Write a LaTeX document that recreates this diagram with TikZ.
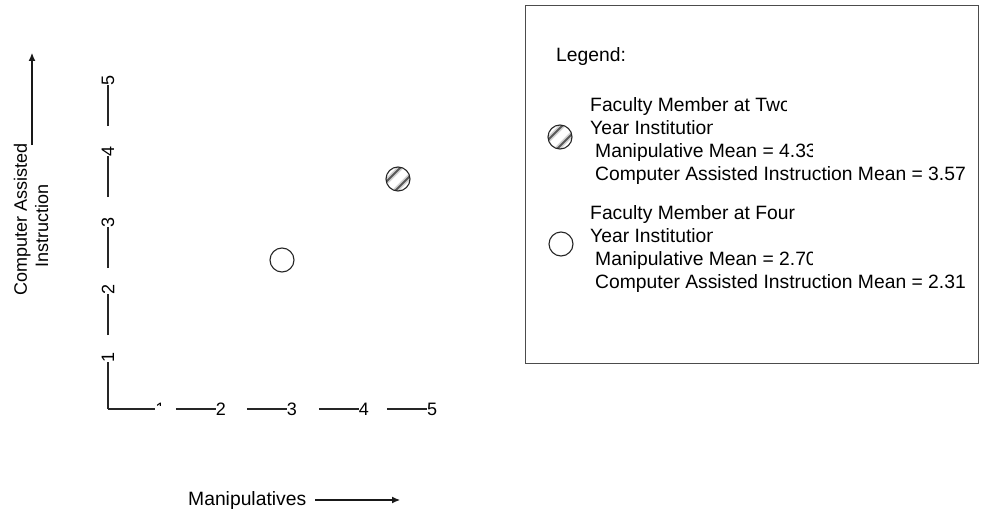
\documentclass[tikz,border=0pt]{standalone}
\usepackage{fontspec}
\setmainfont{Liberation Sans}
\usetikzlibrary{arrows.meta}
\begin{document}
\begin{tikzpicture}[x=1pt,y=-1pt,
  txt/.style={font=\fontsize{19.3}{23}\selectfont, inner sep=0pt},
  lab/.style={font=\fontsize{18}{22}\selectfont, inner sep=0pt},
  num/.style={font=\fontsize{18}{22}\selectfont, inner sep=0pt},
  axis/.style={line width=1.1pt, black!85},
  arr/.style={line width=1.1pt, black!90, -{Latex[length=8pt,width=7pt]}},
  dot/.style={circle, draw=black!85, line width=1.1pt, minimum size=24pt, inner sep=0pt, fill=white},
  hatchdot/.style={dot, path picture={
    \foreach \o in {-4.5,4.5}{
      \draw[gray!35, line width=5pt]
        ([shift={(-20+\o,20+\o)}]path picture bounding box.center) --
        ([shift={(20+\o,-20+\o)}]path picture bounding box.center);
      \draw[gray!70!black, line width=2pt]
        ([shift={(-20+\o,20+\o)}]path picture bounding box.center) --
        ([shift={(20+\o,-20+\o)}]path picture bounding box.center);
    }}}]
\useasboundingbox (0,0) rectangle (982,511);

% vertical axis (Computer Assisted Instruction)
\coordinate (corner) at (108,409);
\node[num, rotate=90] (y1) at (108,357) {1};
\node[num, rotate=90] (y2) at (108,289) {2};
\node[num, rotate=90] (y3) at (108,222) {3};
\node[num, rotate=90] (y4) at (108,151) {4};
\node[num, rotate=90] (y5) at (108,80) {5};
\draw[axis] (corner) -- (y1.west);
\foreach \n in {2,3,4,5}
  \draw[axis] ([yshift=-41pt]y\n.west) -- (y\n.west);

% horizontal axis (Manipulatives)
\coordinate (xend) at (155,409);
\draw[axis] (corner) -- (xend);
\begin{scope}
  \clip (150,396) rectangle (160.5,405.5);
  \node[num] (x1) at (160.5,409) {1};
\end{scope}
\node[num] (x2) at (221,409) {2};
\node[num] (x3) at (292,409) {3};
\node[num] (x4) at (364,409) {4};
\node[num] (x5) at (432,409) {5};
\foreach \n in {2,3,4,5}
  \draw[axis] ([xshift=-40pt]x\n.west) -- (x\n.west);

% axis titles
\node[lab, rotate=90, anchor=base] (ytitle1) at (27,219) {Computer Assisted};
\node[lab, rotate=90, anchor=base] (ytitle2) at (48,226) {Instruction};
\coordinate (yarrowfoot) at (32,145);
\coordinate (yarrowtip) at (32,53);
\draw[arr] (yarrowfoot) -- (yarrowtip);

\node[txt, anchor=base west] (xtitle) at (188,505) {Manipulatives};
\coordinate (xarrowfoot) at (315,500);
\coordinate (xarrowtip) at (400,500);
\draw[arr] (xarrowfoot) -- (xarrowtip);

% data points
\node[dot] (four) at (282,260) {};
\node[hatchdot] (two) at (398,179) {};

% legend
\node[draw=black!70, line width=1.1pt, minimum width=453pt, minimum height=358pt, inner sep=0pt, anchor=north west] (legend) at (525,5) {};
\node[txt, anchor=base west] (legtitle) at (556,62) {Legend:};

\node[hatchdot] (ltwo) at (560,137) {};
\begin{scope}
  \clip (585,90) rectangle (786,116);
  \node[txt, anchor=base west] (ltwoa) at (590,111.5) {Faculty Member at Two};
\end{scope}
\begin{scope}
  \clip (585,116) rectangle (712,140);
  \node[txt, anchor=base west] (ltwob) at (590,134.5) {Year Institution};
\end{scope}
\begin{scope}
  \clip (585,140) rectangle (812,162);
  \node[txt, anchor=base west] (ltwoc) at (595,157.5) {Manipulative Mean = 4.33};
\end{scope}
\node[txt, anchor=base west] (ltwod) at (595,180.5) {Computer Assisted Instruction Mean = 3.57};

\node[dot] (lfour) at (561,244) {};
\begin{scope}
  \clip (585,198) rectangle (796,224);
  \node[txt, anchor=base west] (lfoura) at (590,219.5) {Faculty Member at Four};
\end{scope}
\begin{scope}
  \clip (585,224) rectangle (712,248);
  \node[txt, anchor=base west] (lfourb) at (590,242.5) {Year Institution};
\end{scope}
\begin{scope}
  \clip (585,248) rectangle (812,270);
  \node[txt, anchor=base west] (lfourc) at (595,265.5) {Manipulative Mean = 2.70};
\end{scope}
\node[txt, anchor=base west] (lfourd) at (595,288.5) {Computer Assisted Instruction Mean = 2.31};
\end{tikzpicture}
\end{document}
